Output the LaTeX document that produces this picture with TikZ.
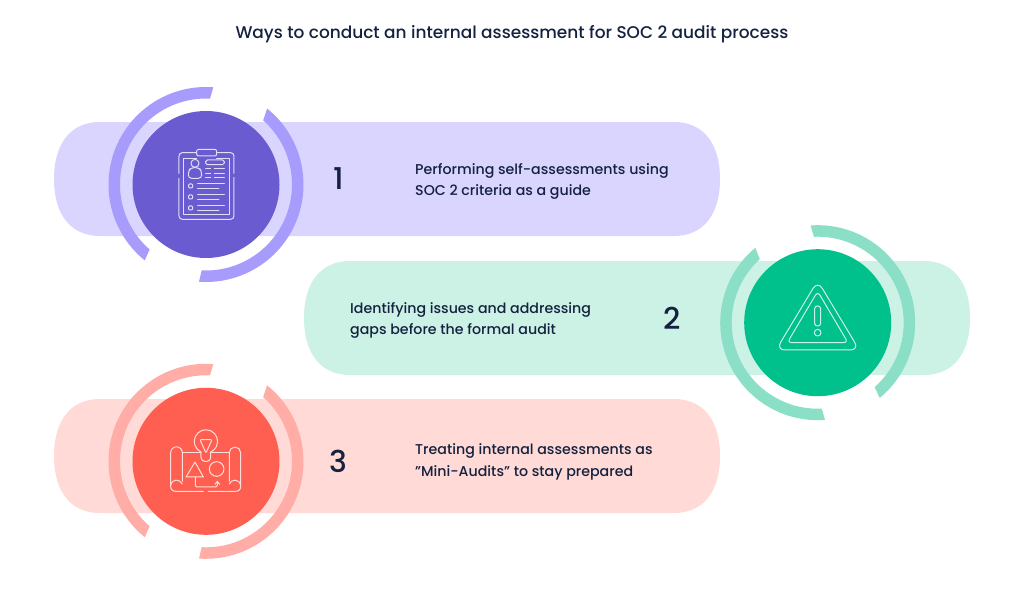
\documentclass[tikz,border=0pt]{standalone}
\usepackage{fontspec}
\setmainfont{Poppins}[UprightFont=*-Medium]
\usetikzlibrary{arrows.meta}
\definecolor{inkc}{HTML}{14213F}
\definecolor{pilla}{HTML}{DAD5FF}\definecolor{ringa}{HTML}{A79BFB}\definecolor{disca}{HTML}{6B5BD0}
\definecolor{pillb}{HTML}{CCF2E6}\definecolor{ringb}{HTML}{8ADFC6}\definecolor{discb}{HTML}{00C08B}
\definecolor{pillc}{HTML}{FFDAD6}\definecolor{ringc}{HTML}{FFADA6}\definecolor{discc}{HTML}{FF5F50}
\newcommand\ringarc[6]{% centre, colour, outer a1,a2, inner a1,a2
  \fill[#2,shift={#1}] (#3:97.5pt) arc[start angle=#3,end angle=#4,radius=97.5pt]
    -- (#6:86pt) arc[start angle=#6,end angle=#5,radius=86pt] -- cycle;}
\newcommand\pillband[2]{% centre, colour: band with soft, slightly elliptical ends
  \fill[#2,shift={#1}] (-287pt,-57pt) -- (287pt,-57pt)
    .. controls (316pt,-57pt) and (333pt,-36pt) .. (333pt,0pt)
    .. controls (333pt,36pt) and (316pt,57pt) .. (287pt,57pt)
    -- (-287pt,57pt)
    .. controls (-316pt,57pt) and (-333pt,36pt) .. (-333pt,0pt)
    .. controls (-333pt,-36pt) and (-316pt,-57pt) .. (-287pt,-57pt) -- cycle;}
\tikzset{
  disc/.style={circle,minimum size=147pt,inner sep=0pt},
  numlabel/.style={text=inkc,font=\fontsize{30}{30}\selectfont,inner sep=0pt},
  body/.style={text=inkc,font=\fontsize{14.2}{21.3}\selectfont,align=left,inner sep=0pt,anchor=west},
  icon/.style={draw=white!80!#1,line width=1pt,line cap=round,line join=round},
  zoomed/.style={scale=0.3333},
}
\begin{document}
\begin{tikzpicture}[x=1pt,y=-1pt]
\useasboundingbox (0,0) rectangle (1024,602);
\fill[white] (0,0) rectangle (1024,602);
\node[text=inkc,font=\fontsize{16.95}{20}\selectfont,inner sep=0pt] (title) at (512,34) {Ways to conduct an internal assessment for SOC 2 audit process};
% pills
\pillband{(387,179)}{pilla}
\pillband{(637,318)}{pillb}
\pillband{(387,456)}{pillc}
% rings
\ringarc{(206,184.5)}{ringa}{85.7}{231.1}{87.3}{229}
\ringarc{(206,184.5)}{ringa}{51.2}{-94.1}{48.3}{-92.9}
\ringarc{(817.7,322.7)}{ringb}{94.2}{-50.5}{92.5}{-48.5}
\ringarc{(817.7,322.7)}{ringb}{129.8}{274.3}{132.3}{272.7}
\ringarc{(206,461.3)}{ringc}{85.7}{231.1}{87.3}{229}
\ringarc{(206,461.3)}{ringc}{51.2}{-94.1}{48.3}{-92.9}
% discs
\node[disc,fill=disca] (da) at (206,184.5) {};
\node[disc,fill=discb] (db) at (817.7,322.7) {};
\node[disc,fill=discc] (dc) at (206,461.3) {};
% numbers
\node[numlabel] (na) at (339,179) {1};
\node[numlabel] (nb) at (672,318) {2};
\node[numlabel] (nc) at (338,461) {3};
% texts
\node[body] (ta) at (415,181.5) {Performing self-assessments using\\SOC 2 criteria as a guide};
\node[body] (tb) at (350,320.5) {Identifying issues and addressing\\gaps before the formal audit};
\node[body] (tc) at (415,462) {Treating internal assessments as\\”Mini-Audits” to stay prepared};
% icon 1
\begin{scope}[shift={(100,80)},zoomed,icon=disca]
\draw (237,280) -- (237,228) arc[start angle=180,end angle=90,radius=10pt] -- (290,218);
\draw (350,218) -- (392,218) arc[start angle=90,end angle=0,radius=10pt] -- (402,280);
\draw (402,292) -- (402,408) arc[start angle=0,end angle=-90,radius=10pt] -- (247,418) arc[start angle=270,end angle=180,radius=10pt] -- (237,295);
\draw (290,235) -- (250,235) -- (250,405) -- (388,405) -- (388,235) -- (350,235);
\draw[rounded corners=2pt] (290,208) rectangle (350,228);
\draw (285,250) circle[radius=12pt];
\draw[rounded corners=3.3pt] (265,295) -- (265,275) -- (272,263) -- (298,263) -- (305,275) -- (305,295) -- cycle;
\draw[rounded corners=1.7pt] (317,240) rectangle (373,254);
\foreach \yy in {267,280,294}{\draw (317,\yy) -- (332,\yy) (343,\yy) -- (373,\yy);}
\foreach \yy in {318,351,384}{
  \draw[rounded corners=1pt] (266,\yy-6) rectangle (278,\yy+6);
  \draw (293,\yy-6) -- (373,\yy-6) (293,\yy+7) -- (357,\yy+7);}
\end{scope}
% icon 2
\begin{scope}[shift={(710,220)},zoomed,icon=discb]
\draw[rounded corners=9pt] (323,182) -- (198,390) -- (448,390) -- cycle;
\draw[rounded corners=4pt] (323,214) -- (232,368) -- (414,368) -- cycle;
\draw[rounded corners=2.7pt] (314,258) rectangle (332,318);
\draw (323,338) circle[radius=10pt];
\end{scope}
% icon 3
\begin{scope}[shift={(100,358)},zoomed,icon=discc]
\draw (303,282) arc[start angle=245,end angle=-65,radius=35pt];
\draw[rounded corners=1.3pt] (303,282) -- (303,302) -- (310,310) -- (326,310) -- (332,302) -- (332,282);
\draw[rounded corners=1pt] (300,245) -- (336,245) -- (318,285) -- cycle;
\draw (303,284) -- (247,284) (332,284) -- (388,284);
\draw (212,385) -- (212,284) arc[start angle=180,end angle=0,radius=17.5pt] -- (247,370);
\draw (422,385) -- (422,284) arc[start angle=0,end angle=180,radius=17pt] -- (388,370);
\draw (212,382) .. controls (215,362) and (240,362) .. (247,378);
\draw (422,382) .. controls (419,362) and (394,362) .. (388,378);
\draw (212,385) .. controls (212,395) and (218,400) .. (228,400) -- (310,400);
\draw (422,385) .. controls (422,395) and (416,400) .. (406,400) -- (325,400);
\draw (285,312) -- (258,357) -- (310,357) -- cycle;
\draw (350,333) circle[radius=22pt];
\draw[rounded corners=2pt,-{Straight Barb[length=3pt,width=5pt]}] (286,357) -- (286,387) -- (352,387) -- (352,368);
\end{scope}
\end{tikzpicture}
\end{document}
